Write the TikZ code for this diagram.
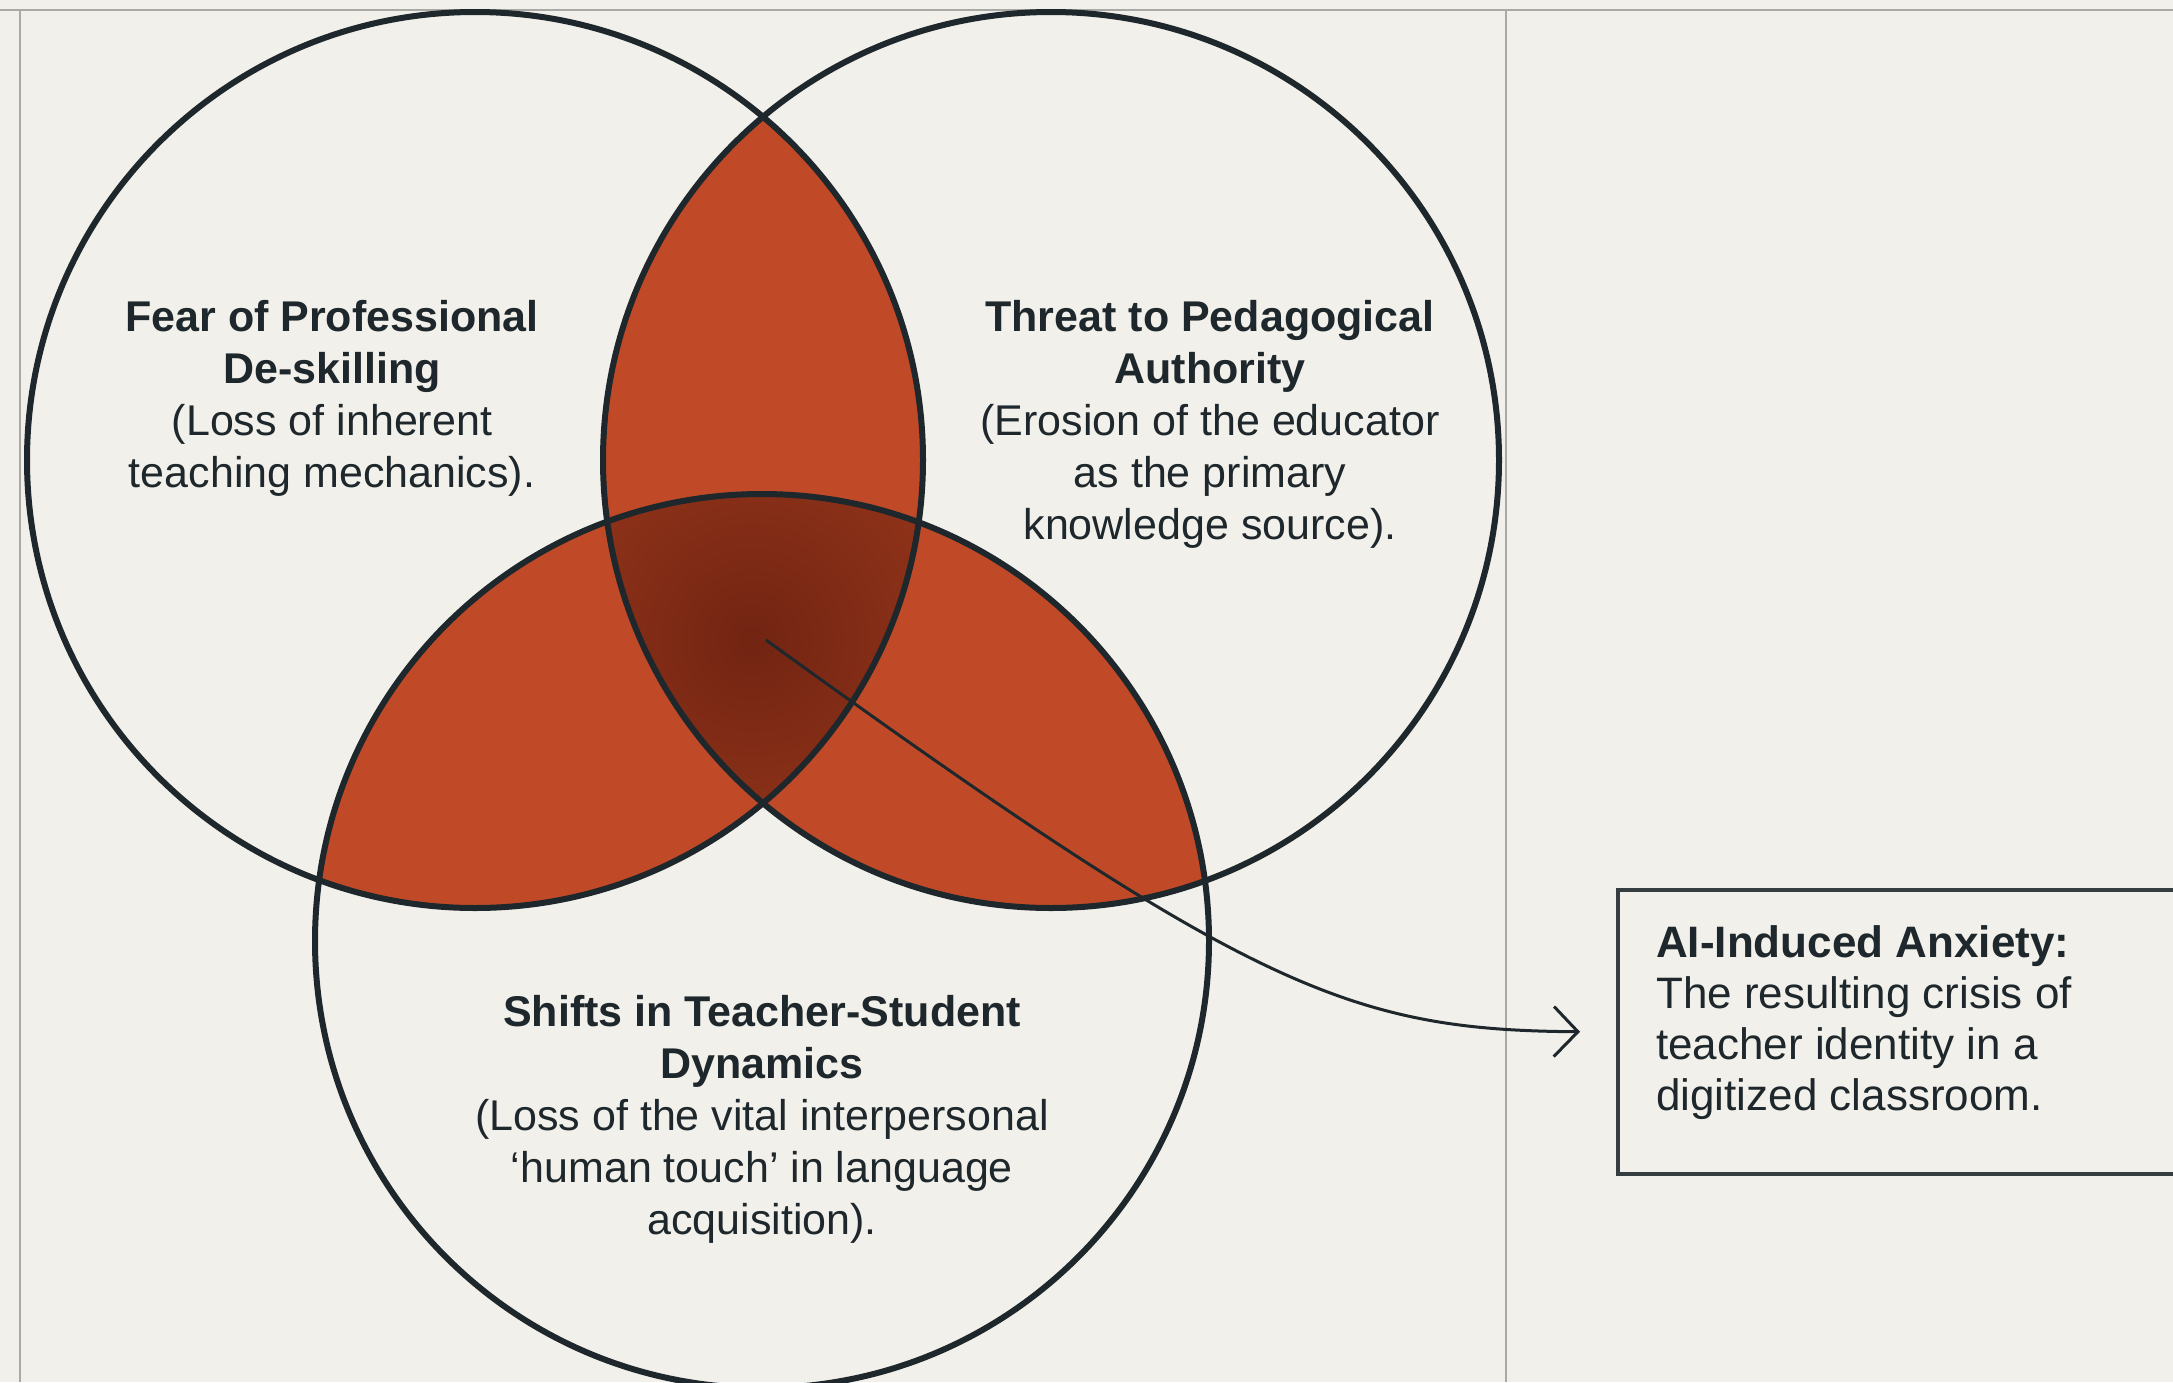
\documentclass[tikz,border=0pt]{standalone}
\usepackage{fontspec}
\setmainfont{Liberation Sans}
\usetikzlibrary{arrows.meta}
\definecolor{bg}{HTML}{F2F0EA}
\definecolor{ink}{HTML}{1E272B}
\definecolor{rust}{HTML}{C04A28}
\definecolor{rustdark}{HTML}{722412}
\definecolor{rustmid}{HTML}{A23C1E}
\definecolor{framegray}{HTML}{A9A9A6}
\begin{document}
\begin{tikzpicture}[x=1pt,y=-1pt,
  ring/.style={draw=ink, line width=6pt},
  label/.style={text=ink, align=center, font=\fontsize{43}{52}\selectfont, inner sep=0pt},
  boxtext/.style={text=ink, align=left, font=\fontsize{44}{51}\selectfont, inner sep=0pt},
  infobox/.style={draw=ink!90, line width=3.5pt, inner sep=0pt},
  guide/.style={draw=framegray, line width=2.5pt},
  link/.style={draw=ink, line width=3pt, -{Straight Barb[length=24pt,width=50pt]}}
]
\useasboundingbox (0,0) rectangle (2173,1382);
\fill[bg] (0,0) rectangle (2173,1382);
\clip (0,0) rectangle (2173,1382);

% frame guides
\draw[guide] (0,10) -- (2173,10);
\draw[guide] (20,10) -- (20,1382);
\draw[guide] (1506,10) -- (1506,1382);

% circle centres
\coordinate (cA) at (475,460);
\coordinate (cB) at (1051,460);
\coordinate (cC) at (762,941);

% pairwise overlaps
\begin{scope}
  \clip (cA) circle[radius=448pt];
  \fill[rust] (cB) circle[radius=448pt];
\end{scope}
\begin{scope}
  \clip (cA) circle[radius=448pt];
  \fill[rust] (cC) circle[radius=447pt];
\end{scope}
\begin{scope}
  \clip (cB) circle[radius=448pt];
  \fill[rust] (cC) circle[radius=447pt];
\end{scope}
% triple overlap
\begin{scope}
  \clip (cA) circle[radius=448pt];
  \clip (cB) circle[radius=448pt];
  \clip (cC) circle[radius=447pt];
  \fill[rustmid] (cC) circle[radius=447pt];
  \shade[inner color=rustdark, outer color=rustmid] (752,640) circle[radius=340pt];
\end{scope}

% outlines
\draw[ring] (cA) circle[radius=448pt];
\draw[ring] (cB) circle[radius=448pt];
\draw[ring] (cC) circle[radius=447pt];

% labels
\node[label] (lblA) at (332,398) {\textbf{Fear of Professional}\\\textbf{De-skilling}\\(Loss of inherent\\teaching mechanics).};
\node[label] (lblB) at (1210,424) {\textbf{Threat to Pedagogical}\\\textbf{Authority}\\(Erosion of the educator\\as the primary\\knowledge source).};
\node[label] (lblC) at (762,1119) {\textbf{Shifts in Teacher-Student}\\\textbf{Dynamics}\\(Loss of the vital interpersonal\\`human touch' in language\\acquisition).};

% result box
\node[infobox, anchor=north west, minimum width=640pt, minimum height=284pt] (box) at (1616,888) {};
\node[boxtext, anchor=west] (boxlbl) at (1656,1023) {\textbf{AI-Induced Anxiety:}\\The resulting crisis of\\teacher identity in a\\digitized classroom.};

% connector
\coordinate (core) at (766,640);
\draw[link] (core) .. controls (1250,990) and (1350,1030) .. ([xshift=-36pt]box.west);
\end{tikzpicture}
\end{document}
